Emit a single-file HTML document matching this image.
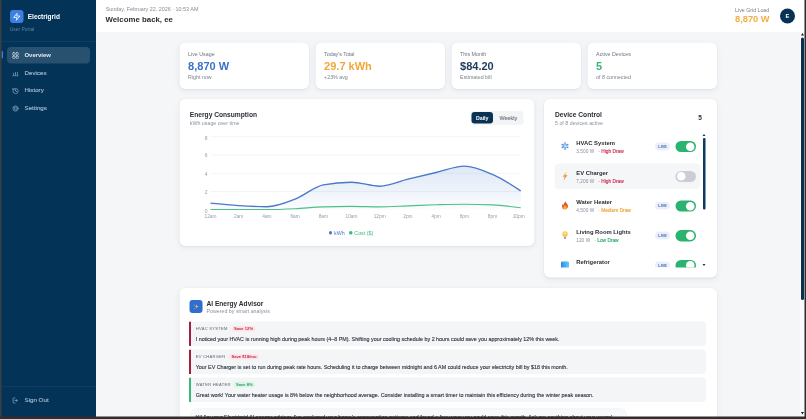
<!DOCTYPE html>
<html><head><meta charset="utf-8">
<style>
*{box-sizing:border-box;margin:0;padding:0}
html,body{width:806px;height:419px;overflow:hidden;background:#2b2b2b}
body{font-family:"Liberation Sans",Arial,sans-serif;color:#222;line-height:1}
#w{position:absolute;left:0;top:0;width:1612px;height:838px;transform:scale(.5);transform-origin:0 0;overflow:hidden;background:#f5f6f8}
.abs{position:absolute}
/* frame */
#fl{left:0;top:0;width:3px;height:838px;background:#3c3e41}
#fb{left:0;top:833px;width:1612px;height:5px;background:#2d2e30}
#fr{left:1609.2px;top:0;width:2.8px;height:838px;background:#2d2e30}
/* sidebar */
#sb{left:0;top:0;width:192px;height:838px;background:#033356}
#logo{left:20.4px;top:19.8px;width:27px;height:26.4px;border-radius:6px;background:#3b80e2}
#brand{left:55.5px;top:26.3px;font-size:13px;font-weight:700;color:#fff;white-space:nowrap}
#portal{left:19.5px;top:52.8px;font-size:9.85px;color:#5f80a4;white-space:nowrap}
.hr{height:1px;background:#1d4a70}
.nav{left:14px;width:166px;height:33px;border-radius:8px;font-size:12.4px;color:#a3b9d0;font-weight:400}
.nav.on{background:#28506f;color:#e6eef7;font-weight:700;font-size:11.9px}
.nav span{position:absolute;left:35px;top:9px;white-space:nowrap;-webkit-text-stroke:.3px currentColor}
.nav.on span{top:9.6px;-webkit-text-stroke:0}
.nav svg{position:absolute;left:10px;top:9.5px}
#ind{left:3px;top:102px;width:3px;height:15px;background:#3d7fe0;border-radius:2px}
/* header */
#hd{left:192px;top:0;width:1416px;height:65px;background:#fff;border-bottom:1px solid #eceef2}
#date{left:211.5px;top:12.2px;font-size:10.8px;color:#868c96;white-space:nowrap}
#welcome{left:211px;top:30.6px;font-size:15.7px;font-weight:700;color:#2a2d33;white-space:nowrap}
#lgl{right:73.6px;top:14.9px;font-size:10.5px;color:#7b828c;text-align:right;white-space:nowrap}
#lgv{right:73px;top:28.5px;font-size:18.5px;font-weight:700;color:#f4ad45;white-space:nowrap}
#av{left:1559.6px;top:16.5px;width:30px;height:30px;border-radius:50%;background:#0a3255;color:#fff;font-size:11.5px;font-weight:700;text-align:center;line-height:30px}
/* cards */
.card{background:#fff;border-radius:12px;box-shadow:0 0 0 1px rgba(20,30,50,.02),0 2px 4px rgba(20,30,50,.05),0 4px 14px rgba(20,30,50,.05)}
.stat{top:85.4px;width:259px;height:92.2px}
.stat .l{position:absolute;left:17.6px;top:17.4px;font-size:10.6px;color:#6b7280;white-space:nowrap}
.stat .v{position:absolute;left:17.6px;top:35.3px;font-size:22px;font-weight:700;white-space:nowrap}
.stat .s{position:absolute;left:17.6px;top:63.2px;font-size:10.6px;color:#7b828c;white-space:nowrap}
#cc{left:358.6px;top:198px;width:710px;height:294px}
#dc{left:1088px;top:198px;width:345.6px;height:357px}
.ct{position:absolute;top:24.1px;font-size:13.3px;font-weight:700;color:#2a2d33;white-space:nowrap}
.cs{position:absolute;top:42.7px;font-size:10.6px;color:#8a919c;white-space:nowrap}
.chart{position:absolute;left:0;top:0}
.chart text{font-family:"Liberation Sans",Arial,sans-serif}
#tg{position:absolute;left:582px;top:23.6px;width:106px;height:28px;background:#f3f4f6;border-radius:7px}
#tg .d{position:absolute;left:2px;top:2px;width:43.6px;height:23.4px;background:#0a3255;border-radius:6px;color:#fff;font-size:10.5px;font-weight:700;text-align:center;line-height:23.4px}
#tg .k{position:absolute;left:58.6px;top:9px;font-size:10.8px;color:#6b717c;font-weight:400;-webkit-text-stroke:.2px currentColor}
#lg{position:absolute;left:299px;top:262.4px;font-size:10.6px;white-space:nowrap}
#lg i{display:inline-block;width:6.5px;height:6.5px;border-radius:50%;vertical-align:middle;margin-right:4px;position:relative;top:-1px}
/* device list */
#dl{position:absolute;left:21.4px;top:68px;width:303px;height:269.4px;overflow:hidden}
.row{position:absolute;left:0;width:291.4px;height:51px;border-radius:9px}
.row.g{background:#f5f6f8}
.row .ic{position:absolute;left:11px;top:14.5px;width:20px;height:20px}
.row .n{position:absolute;left:43.2px;top:11.9px;font-size:11.7px;font-weight:700;color:#2a2d33;white-space:nowrap}
.row .m{position:absolute;left:43.2px;top:29.8px;font-size:9.6px;color:#8a919c;white-space:nowrap}
.row .m b{font-weight:400;margin-left:3px;-webkit-text-stroke:.3px currentColor}
.live{position:absolute;left:200.6px;top:17.6px;width:30.4px;height:15.4px;border-radius:8px;background:#e9f0fc;color:#4c68aa;font-size:7.8px;font-weight:700;text-align:center;line-height:15.4px}
.tog{position:absolute;left:242px;top:14.6px;width:40.4px;height:22.2px;border-radius:11.1px;background:#2bb46f}
.tog::after{content:"";position:absolute;right:3px;top:2.6px;width:17px;height:17px;border-radius:50%;background:#fff}
.tog.off{background:#cacdd3}
.tog.off::after{right:auto;left:3px}
#dsb{position:absolute;left:297px;top:9.8px;width:4.2px;height:143.6px;border-radius:2px;background:#0d3a62}
.arr{position:absolute;width:0;height:0;border-left:3px solid transparent;border-right:3px solid transparent}
/* AI */
#ai{left:358.6px;top:575.8px;width:1075px;height:400px}
#aii{position:absolute;left:20.6px;top:23.8px;width:26.2px;height:26.4px;border-radius:6px;background:#2e6ed0}
.it{position:absolute;left:19.8px;width:1033.6px;height:49px;background:#f4f5f7;border-radius:0 8px 8px 0;border-left:4px solid #a31f3d}
.it .t{position:absolute;left:9px;top:11.1px;font-size:8.2px;font-weight:400;color:#5f6672;letter-spacing:.55px;white-space:nowrap}
.it .b{position:absolute;top:8.8px;height:11.6px;border-radius:6px;font-size:8.3px;font-weight:700;line-height:11.6px;padding:0 4.5px;white-space:nowrap}
.it .x{position:absolute;left:9px;top:29.1px;font-size:10.75px;color:#2f3541;white-space:nowrap;-webkit-text-stroke:.25px currentColor}
.red{background:#fde4e8;color:#c42a47}
.grn{background:#ddf5e8;color:#26a565}
#bub{position:absolute;left:22px;top:240.8px;width:872.4px;height:60px;background:#f8f9fb;border:1.5px solid #e6e8ec;border-radius:12px}
#bub span{position:absolute;left:9.5px;top:10.5px;font-size:10.75px;color:#2f3541;white-space:nowrap;-webkit-text-stroke:.25px currentColor}
/* main scrollbar */
#msb{left:1602px;top:75px;width:5.8px;height:525px;border-radius:3px;background:#0b3050}
</style></head><body>
<div id="w">
<div id="sb" class="abs">
</div>
<div id="logo" class="abs"><svg width="27" height="27" viewBox="0 0 27 27" style="position:absolute;left:0;top:0"><g transform="translate(5.1 5.1) scale(.7)"><path d="M13 2L3 14h9l-1 8 10-12h-9l1-8z" fill="none" stroke="#fff" stroke-width="2.4" stroke-linejoin="round"/></g></svg></div>
<div id="brand" class="abs">Electrigrid</div>
<div id="portal" class="abs">User Portal</div>
<div class="abs hr" style="left:3px;top:82px;width:189px"></div>
<div id="ind" class="abs"></div>
<div class="abs nav on" style="top:94px"><svg width="14" height="14" viewBox="0 0 24 24" fill="none" stroke="#e6eef7" stroke-width="2.2" stroke-linecap="round" stroke-linejoin="round"><rect x="2" y="2" width="8.6" height="8.6" rx="3.2"/><rect x="13.4" y="2" width="8.6" height="8.6" rx="3.2"/><rect x="2" y="13.4" width="8.6" height="8.6" rx="3.2"/><rect x="13.4" y="13.4" width="8.6" height="8.6" rx="3.2"/></svg><span>Overview</span></div>
<div class="abs nav" style="top:129.5px"><svg width="14" height="14" viewBox="0 0 24 24" fill="none" stroke="#8ea8c4" stroke-width="2.4" stroke-linecap="round" stroke-linejoin="round"><path d="M3 22h18M5.5 20v-7M12 20v-10M18.5 20v-10"/></svg><span>Devices</span></div>
<div class="abs nav" style="top:165px"><svg width="14" height="14" viewBox="0 0 24 24" fill="none" stroke="#8ea8c4" stroke-width="2.4" stroke-linecap="round" stroke-linejoin="round"><path d="M3 12a9 9 0 1 0 9-9 9.75 9.75 0 0 0-6.74 2.74L3 8"/><path d="M3 3v5h5"/><path d="M12 7v5l4 2"/></svg><span>History</span></div>
<div class="abs nav" style="top:200.5px"><svg width="14" height="14" viewBox="0 0 24 24" fill="none" stroke="#8ea8c4" stroke-width="2.4" stroke-linecap="round" stroke-linejoin="round"><circle cx="12" cy="12" r="9"/><path d="M12 7.5a4.5 4.5 0 1 1-4.2 2.9"/><path d="M6.5 8.5l1.3 1.9 2-1"/></svg><span>Settings</span></div>
<div class="abs hr" style="left:3px;top:772px;width:189px"></div>
<div class="abs nav" style="top:784px"><svg width="14" height="14" viewBox="0 0 24 24" fill="none" stroke="#8ea8c4" stroke-width="2.4" stroke-linecap="round" stroke-linejoin="round"><path d="M10 21H6a2 2 0 0 1-2-2V5a2 2 0 0 1 2-2h4"/><path d="M14 8l4 4-4 4"/><path d="M18 12H10"/></svg><span>Sign Out</span></div>

<div id="hd" class="abs"></div>
<div id="date" class="abs">Sunday, February 22, 2026 · 10:53 AM</div>
<div id="welcome" class="abs">Welcome back, ee</div>
<div id="lgl" class="abs">Live Grid Load</div>
<div id="lgv" class="abs">8,870 W</div>
<div id="av" class="abs">E</div>

<div class="abs card stat" style="left:358.6px"><div class="l">Live Usage</div><div class="v" style="color:#3b72c6">8,870 W</div><div class="s">Right now</div></div>
<div class="abs card stat" style="left:630.6px"><div class="l">Today's Total</div><div class="v" style="color:#f2a73a">29.7 kWh</div><div class="s">+23% avg</div></div>
<div class="abs card stat" style="left:902.6px"><div class="l">This Month</div><div class="v" style="color:#1b3a5c">$84.20</div><div class="s">Estimated bill</div></div>
<div class="abs card stat" style="left:1174.6px"><div class="l">Active Devices</div><div class="v" style="color:#34b87a">5</div><div class="s">of 8 connected</div></div>

<div id="cc" class="abs card">
<svg class="chart" width="710" height="294" viewBox="0 0 710 294">
<defs><linearGradient id="ga" x1="0" y1="0" x2="0" y2="1"><stop offset="0" stop-color="#4a7fd0" stop-opacity="0.18"/><stop offset="1" stop-color="#4a7fd0" stop-opacity="0.02"/></linearGradient></defs>
<g stroke="#eef0f3" stroke-width="1.5"><line x1="62" x2="682.4" y1="185.0" y2="185.0"/><line x1="62" x2="682.4" y1="148.5" y2="148.5"/><line x1="62" x2="682.4" y1="111.9" y2="111.9"/><line x1="62" x2="682.4" y1="75.4" y2="75.4"/></g>
<g font-size="10" fill="#979ea8" text-anchor="end"><text x="56" y="227.6">0</text><text x="56" y="189.6">2</text><text x="56" y="153.1">4</text><text x="56" y="116.5">6</text><text x="56" y="82.4">8</text></g>
<g font-size="9.6" fill="#979ea8" text-anchor="middle"><text x="62.0" y="237.8">12am</text><text x="118.4" y="237.8">2am</text><text x="174.8" y="237.8">4am</text><text x="231.2" y="237.8">6am</text><text x="287.6" y="237.8">8am</text><text x="344.0" y="237.8">10am</text><text x="400.4" y="237.8">12pm</text><text x="456.8" y="237.8">2pm</text><text x="513.2" y="237.8">4pm</text><text x="569.6" y="237.8">6pm</text><text x="626.0" y="237.8">8pm</text><text x="678.4" y="237.8">10pm</text></g>
<path d="M62.0,208.4C80.8,210.3,99.6,212.2,118.4,213.4C137.2,214.5,156.0,215.4,174.8,215.4C193.6,215.4,212.4,207.5,231.2,200.2C250.0,193.0,268.8,175.5,287.6,171.9C306.4,168.2,325.2,166.4,344.0,166.4C362.8,166.4,381.6,174.4,400.4,174.4C419.2,174.4,438.0,164.9,456.8,160.4C475.6,155.8,494.4,151.4,513.2,147.0C532.0,142.7,550.8,134.2,569.6,134.2C588.4,134.2,607.2,142.6,626.0,150.9C644.8,159.1,663.6,171.4,682.4,183.8L682.4,221.6L62.0,221.6Z" fill="url(#ga)"/>
<path d="M62.0,220.9C80.8,221.0,99.6,221.1,118.4,221.1C137.2,221.1,156.0,221.1,174.8,221.1C193.6,221.1,212.4,220.3,231.2,219.4C250.0,218.5,268.8,216.4,287.6,215.8C306.4,215.1,325.2,214.8,344.0,214.8C362.8,214.8,381.6,215.8,400.4,215.8C419.2,215.8,438.0,214.4,456.8,213.7C475.6,213.0,494.4,212.1,513.2,211.5C532.0,211.0,550.8,210.4,569.6,210.4C588.4,210.4,607.2,210.9,626.0,211.7C644.8,212.6,663.6,215.0,682.4,217.4" fill="none" stroke="#4cc088" stroke-width="2.2"/>
<path d="M62.0,208.4C80.8,210.3,99.6,212.2,118.4,213.4C137.2,214.5,156.0,215.4,174.8,215.4C193.6,215.4,212.4,207.5,231.2,200.2C250.0,193.0,268.8,175.5,287.6,171.9C306.4,168.2,325.2,166.4,344.0,166.4C362.8,166.4,381.6,174.4,400.4,174.4C419.2,174.4,438.0,164.9,456.8,160.4C475.6,155.8,494.4,151.4,513.2,147.0C532.0,142.7,550.8,134.2,569.6,134.2C588.4,134.2,607.2,142.6,626.0,150.9C644.8,159.1,663.6,171.4,682.4,183.8" fill="none" stroke="#4a79c8" stroke-width="2.7"/>
</svg>
<div class="ct" style="left:21px">Energy Consumption</div>
<div class="cs" style="left:21px">kWh usage over time</div>
<div id="tg"><div class="d">Daily</div><div class="k">Weekly</div></div>
<div id="lg"><i style="background:#4677c8"></i><span style="color:#4677c8">kWh</span>&nbsp;&nbsp;&nbsp;<i style="background:#3dbb7e"></i><span style="color:#3dbb7e">Cost ($)</span></div>
</div>

<div id="dc" class="abs card">
<div class="ct" style="left:22px">Device Control</div>
<div class="cs" style="left:22px">5 of 8 devices active</div>
<div style="position:absolute;left:308.6px;top:30.8px;font-size:13px;font-weight:700;color:#243246">5</div>
<div id="dl">
<div class="row" style="top:1.6px"><svg class="ic" viewBox="0 0 20 20"><g stroke="#5a8ee6" stroke-width="2.3" stroke-linecap="round"><path d="M10 3.2v13.6M4.1 6.6l11.8 6.8M4.1 13.4l11.8-6.8"/></g><g stroke="#7fb0f0" stroke-width="1.3" stroke-linecap="round" fill="none"><path d="M8.2 3.8L10 5.4l1.8-1.6M8.2 16.2L10 14.6l1.8 1.6M3.9 8.7l2.3.5.7-2.3M16.1 11.3l-2.3-.5-.7 2.3M3.9 11.3l2.3-.5.7 2.3M16.1 8.7l-2.3.5-.7-2.3"/></g><circle cx="10" cy="10" r="2.2" fill="#bfeffc"/></svg><div class="n">HVAC System</div><div class="m">3,500 W &nbsp;<b style="color:#cc3158">· High Draw</b></div><div class="live">LIVE</div><div class="tog"></div></div>
<div class="row g" style="top:61.0px"><svg class="ic" viewBox="0 0 20 20"><defs><linearGradient id="bg1" x1="0" y1="0" x2="0" y2="1"><stop offset="0" stop-color="#f8c25a"/><stop offset=".55" stop-color="#f39a3e"/><stop offset="1" stop-color="#e8553a"/></linearGradient></defs><path d="M13.4 0.8L5 11.4h4.6L7 19.2l8.2-11.2h-4.6z" fill="url(#bg1)"/></svg><div class="n">EV Charger</div><div class="m">7,200 W &nbsp;<b style="color:#cc3158">· High Draw</b></div><div class="tog off"></div></div>
<div class="row" style="top:120.4px"><svg class="ic" viewBox="0 0 20 20"><defs><linearGradient id="fg1" x1="0" y1="0" x2="0" y2="1"><stop offset="0" stop-color="#d9413a"/><stop offset="1" stop-color="#f2772e"/></linearGradient></defs><path d="M10.6 2.1c.6 2.8 5.5 4.6 5.5 9.6 0 3.6-2.7 6.2-6.1 6.2S3.9 15.4 3.9 11.9c0-2.6 1.4-3.9 2.2-5.4.5 1.4 1.1 2 1.8 2.3-.1-2.6 1.2-5 2.7-6.7z" fill="url(#fg1)"/><path d="M10 9c.5 2 3.3 2.9 3.3 5.4 0 1.9-1.5 3.2-3.3 3.2s-3.2-1.3-3.2-3c0-2.4 2.6-3.2 3.2-5.6z" fill="#fbb534"/></svg><div class="n">Water Heater</div><div class="m">4,500 W &nbsp;<b style="color:#f2a23a">· Medium Draw</b></div><div class="live">LIVE</div><div class="tog"></div></div>
<div class="row" style="top:179.8px"><svg class="ic" viewBox="0 0 20 20"><defs><radialGradient id="lg1" cx=".45" cy=".4"><stop offset="0" stop-color="#fde79a"/><stop offset="1" stop-color="#f3c23f"/></radialGradient></defs><circle cx="10" cy="8" r="5.4" fill="url(#lg1)"/><path d="M7.3 11.5h5.4l-.6 3H7.9z" fill="#f3c23f"/><rect x="7.6" y="14.3" width="4.8" height="2.4" rx=".8" fill="#9b8fb4"/><rect x="8.5" y="16.4" width="3" height="1.4" rx=".7" fill="#6c5a96"/></svg><div class="n">Living Room Lights</div><div class="m">120 W &nbsp;<b style="color:#2fae6e">· Low Draw</b></div><div class="live">LIVE</div><div class="tog"></div></div>
<div class="row" style="top:239.2px"><svg class="ic" viewBox="0 0 20 20"><defs><linearGradient id="ig1" x1="0" y1="0" x2="1" y2="0"><stop offset="0" stop-color="#3a82e4"/><stop offset="1" stop-color="#5ad0f6"/></linearGradient></defs><rect x="2" y="3.2" width="16" height="14.5" rx="2.2" fill="url(#ig1)"/><rect x="4.5" y="2.4" width="11" height="2.2" rx="1.1" fill="#7fe0d8"/></svg><div class="n">Refrigerator</div><div class="m">180 W &nbsp;<b style="color:#2fae6e">· Low Draw</b></div><div class="live">LIVE</div><div class="tog"></div></div>
<div class="row g" style="top:298.6px"><svg class="ic" viewBox="0 0 20 20"><rect x="3" y="3" width="14" height="14" rx="3" fill="#9aa3ad"/></svg><div class="n">Washing Machine</div><div class="m">500 W &nbsp;<b style="color:#2fae6e">· Low Draw</b></div><div class="tog off"></div></div>
<div class="row g" style="top:358.0px"><svg class="ic" viewBox="0 0 20 20"><rect x="3" y="3" width="14" height="14" rx="3" fill="#9aa3ad"/></svg><div class="n">Dishwasher</div><div class="m">1,200 W &nbsp;<b style="color:#f2a23a">· Medium Draw</b></div><div class="tog off"></div></div>
<div class="row g" style="top:417.4px"><svg class="ic" viewBox="0 0 20 20"><rect x="3" y="3" width="14" height="14" rx="3" fill="#9aa3ad"/></svg><div class="n">Smart TV</div><div class="m">150 W &nbsp;<b style="color:#2fae6e">· Low Draw</b></div><div class="tog off"></div></div>

<div id="dsb"></div>
<div class="arr" style="left:296px;top:2px;border-bottom:4px solid #0d3a62"></div>
<div class="arr" style="left:296px;top:262px;border-top:4px solid #0d3a62"></div>
</div>
</div>

<div id="ai" class="abs card">
<div id="aii"><svg width="26" height="26" viewBox="0 0 26 26"><path d="M14.4 8.4l1.2 3.4 3.4 1.2-3.4 1.2-1.2 3.4-1.2-3.4-3.4-1.2 3.4-1.2z" fill="#eea95c"/><path d="M14.4 10.8l.6 1.6 1.6.6-1.6.6-.6 1.6-.6-1.6-1.6-.6 1.6-.6z" fill="#f8cc86"/><path d="M9.2 8.4l.5 1.2 1.2.5-1.2.5-.5 1.2-.5-1.2-1.2-.5 1.2-.5z" fill="#a9c4ee"/><path d="M9.8 15.4l.5 1.2 1.2.5-1.2.5-.5 1.2-.5-1.2-1.2-.5 1.2-.5z" fill="#93b4ea"/></svg></div>
<div class="ct" style="left:54.4px;top:24.3px;font-size:13.2px">AI Energy Advisor</div>
<div class="cs" style="left:54.4px;top:41.7px">Powered by smart analysis</div>
<div class="it" style="top:67.2px"><div class="t">HVAC SYSTEM</div><div class="b red" style="left:81px">Save 12%</div><div class="x">I noticed your HVAC is running high during peak hours (4–8 PM). Shifting your cooling schedule by 2 hours could save you approximately 12% this week.</div></div>
<div class="it" style="top:123.2px"><div class="t">EV CHARGER</div><div class="b red" style="left:76px">Save $18/mo</div><div class="x">Your EV Charger is set to run during peak rate hours. Scheduling it to charge between midnight and 6 AM could reduce your electricity bill by $18 this month.</div></div>
<div class="it" style="top:178.8px;border-left-color:#3cb878"><div class="t">WATER HEATER</div><div class="b grn" style="left:85px">Save 8%</div><div class="x">Great work! Your water heater usage is 8% below the neighborhood average. Consider installing a smart timer to maintain this efficiency during the winter peak season.</div></div>
<div id="bub"><span>Hi! I'm your Electrigrid AI energy advisor. I've analyzed your home's consumption patterns and found a few ways you could save this month. Ask me anything about your usage!</span></div>
</div>

<div class="abs" style="left:1600px;top:65px;width:9.2px;height:768px;background:#f9fafb"></div>
<div id="msb" class="abs"></div>
<div class="abs arr" style="left:1602px;top:66px;border-bottom:5px solid #1a1a1a"></div>
<div class="abs arr" style="left:1602px;top:824px;border-top:5px solid #1a1a1a"></div>

<div id="fl" class="abs"></div>
<div id="fb" class="abs"></div>
<div id="fr" class="abs"></div>
</div>
</body></html>
